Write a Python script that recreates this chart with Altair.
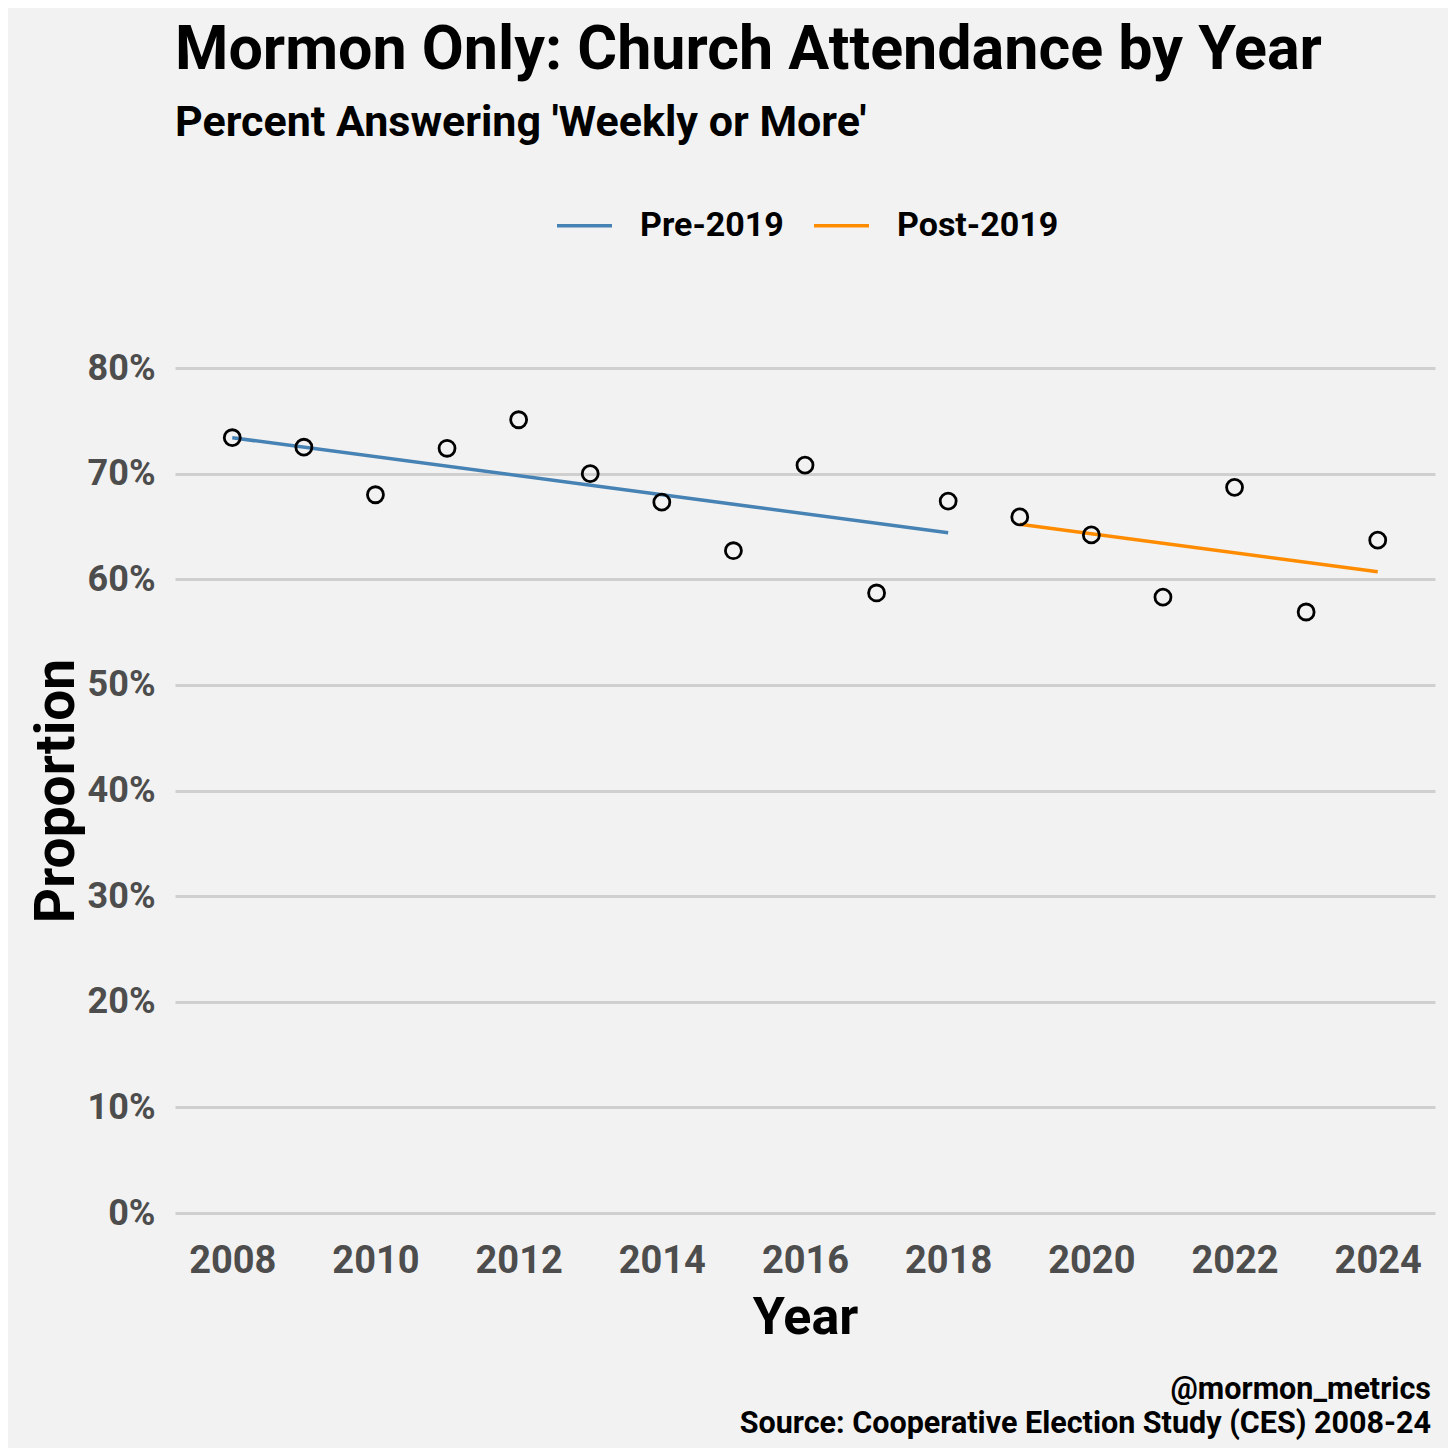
import altair as alt
import pandas as pd

FONT = "Roboto"

years = [2008, 2009, 2010, 2011, 2012, 2013, 2014, 2015, 2016,
         2017, 2018, 2019, 2020, 2021, 2022, 2023, 2024]
weekly_share = [0.734, 0.725, 0.680, 0.724, 0.751, 0.700, 0.673, 0.627, 0.708,
                0.587, 0.674, 0.659, 0.642, 0.583, 0.687, 0.569, 0.637]

trend_period = ["Pre-2019", "Pre-2019", "Post-2019", "Post-2019"]
trend_year = [2008, 2018, 2019, 2024]
trend_value = [0.734, 0.644, 0.652, 0.607]

period_names = ["Pre-2019", "Post-2019"]
period_colors = ["#4682b4", "#ff8c00"]

x_ticks = [2008, 2010, 2012, 2014, 2016, 2018, 2020, 2022, 2024]
y_ticks = [0, 0.1, 0.2, 0.3, 0.4, 0.5, 0.6, 0.7, 0.8]

title_text = "Mormon Only: Church Attendance by Year"
subtitle_text = "Percent Answering 'Weekly or More'"
caption_text = "@mormon_metrics\nSource: Cooperative Election Study (CES) 2008-24"

points_df = pd.DataFrame({"Year": years, "Proportion": weekly_share})
trend_df = pd.DataFrame({"Period": trend_period, "Year": trend_year, "Proportion": trend_value})
caption_df = pd.DataFrame({"t": [caption_text]})

x_enc = alt.X("Year:Q",
              scale=alt.Scale(domain=[2007.2, 2024.8], nice=False, zero=False),
              axis=alt.Axis(values=x_ticks, format="d", grid=False, ticks=False, domain=False,
                            labelFontSize=38, labelColor="#4d4d4d", labelFontWeight="bold",
                            labelPadding=29, title="Year", titleFontSize=52,
                            titleFontWeight="bold", titleColor="black", titlePadding=12))
y_enc = alt.Y("Proportion:Q",
              scale=alt.Scale(domain=[0, 0.8], nice=False),
              axis=alt.Axis(values=y_ticks, format=".0%", grid=True, gridColor="#cfcfcf",
                            gridWidth=3, ticks=False, domain=False, labelFontSize=36,
                            labelColor="#4d4d4d", labelFontWeight="bold", labelPadding=20,
                            title="Proportion", titleFontSize=55, titleFontWeight="bold",
                            titleColor="black", titlePadding=2))

lines = alt.Chart(trend_df).mark_line(strokeWidth=3.5).encode(
    x=x_enc, y=y_enc,
    color=alt.Color("Period:N",
                    scale=alt.Scale(domain=period_names, range=period_colors),
                    sort=period_names,
                    legend=alt.Legend(title=None, orient="none", direction="horizontal",
                                      legendX=380, legendY=-172,
                                      symbolType="stroke", symbolSize=3025,
                                      symbolStrokeWidth=3.5, labelFontSize=34,
                                      labelFontWeight="bold", labelColor="black",
                                      labelOffset=26, columnPadding=23, labelLimit=400)),
    detail="Period:N",
)

points = alt.Chart(points_df).mark_point(shape="circle", filled=False, size=255,
                                          strokeWidth=2.8, color="black", opacity=1).encode(
    x="Year:Q", y="Proportion:Q")

caption = alt.Chart(caption_df).mark_text(align="right", baseline="alphabetic", fontSize=30.5,
                                          fontWeight="bold", color="black", lineHeight=34,
                                          lineBreak="\n", font=FONT).encode(
    x=alt.value(1256), y=alt.value(1031), text="t:N")

chart = alt.layer(lines, points, caption).properties(
    width=1260, height=845,
    padding={"left": 167, "top": 360, "right": 13, "bottom": 235},
    autosize=alt.AutoSizeParams(type="none"),
    background="#f2f2f2",
    title=alt.TitleParams(text=title_text, subtitle=subtitle_text, anchor="start",
                          frame="group", fontSize=61, font=FONT, fontWeight="bold",
                          color="black", subtitleFontSize=43, subtitleFont=FONT,
                          subtitleFontWeight="bold", subtitleColor="black",
                          subtitlePadding=20, offset=50),
).configure(font=FONT).configure_view(stroke=None).configure_axis(
    labelFont=FONT, titleFont=FONT).configure_legend(labelFont=FONT)

chart.save("out.html", embed_options={"renderer": "svg", "actions": False})
